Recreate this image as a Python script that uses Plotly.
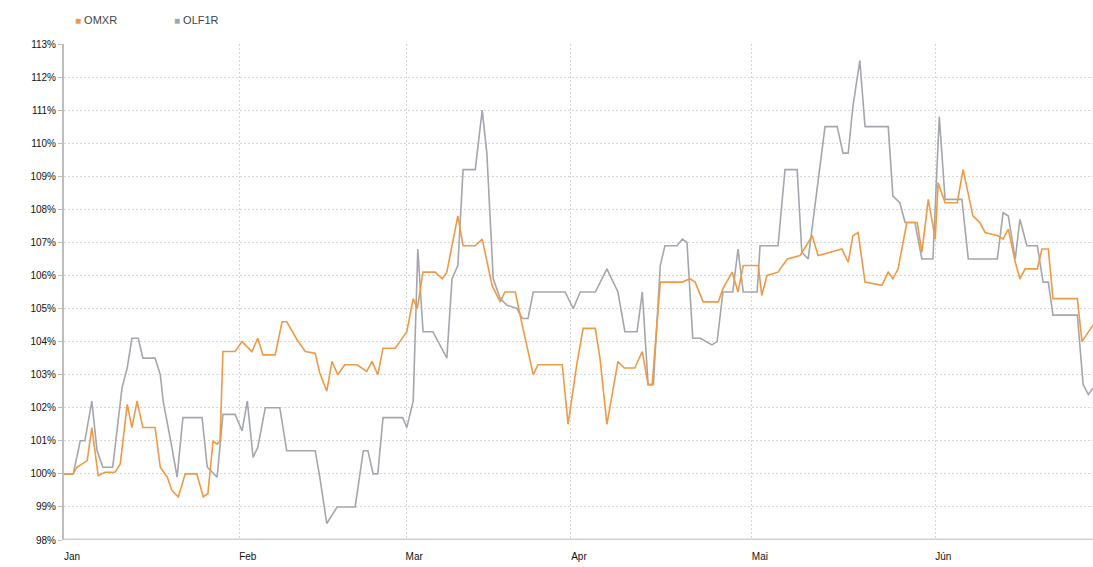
import plotly.graph_objects as go

# Day index along the axis (Jan 1 = 0) and index values in %
omxr_day = [0, 1.6, 2.2, 4.0, 4.8, 5.9, 7.1, 8.8, 9.7, 10.9, 11.7, 12.6, 13.6, 15.7, 16.6, 17.8,
            18.6, 19.7, 20.9, 22.9, 24.0, 24.8, 25.7, 26.4, 26.9, 27.4, 29.5, 30.7, 32.4, 33.4,
            34.3, 36.4, 37.6, 38.4, 40.2, 41.6, 43.3, 44.1, 45.3, 46.2, 47.2, 48.4, 50.5, 52.2,
            53.1, 54.1, 55.0, 57.1, 57.9, 59.1, 60.2, 60.9, 61.9, 64.0, 65.2, 66.0, 67.9, 68.8,
            70.9, 72.1, 73.8, 75.2, 76.0, 77.8, 79.0, 80.9, 81.7, 85.9, 86.9, 88.4, 89.5, 91.6,
            92.4, 93.6, 95.5, 96.6, 98.4, 99.7, 100.7, 101.4, 102.8, 106.6, 107.9, 108.8, 110.2,
            112.8, 113.6, 115.2, 116.2, 117.1, 119.7, 120.3, 121.2, 123.1, 124.7, 126.9, 129.0,
            130.0, 132.1, 134.1, 135.2, 136.0, 136.9, 138.1, 141.0, 142.1, 142.9, 143.8, 145.3,
            147.1, 147.9, 149.0, 150.2, 150.7, 151.9, 154.0, 155.0, 156.7, 157.9, 158.8, 161.0,
            161.9, 162.8, 164.0, 164.8, 165.7, 167.8, 168.6, 169.7, 170.5, 174.7, 175.5, 177.4]
omxr_val = [100.0, 100.0, 100.2, 100.4, 101.4, 99.95, 100.05, 100.05, 100.3, 102.1, 101.4, 102.2,
            101.4, 101.4, 100.2, 99.9, 99.5, 99.3, 100.0, 100.0, 99.3, 99.4, 101.0, 100.9, 101.0,
            103.7, 103.7, 104.0, 103.7, 104.1, 103.6, 103.6, 104.6, 104.6, 104.05, 103.7, 103.65,
            103.05, 102.5, 103.4, 103.0, 103.3, 103.3, 103.1, 103.4, 103.0, 103.8, 103.8, 104.0,
            104.3, 105.3, 105.0, 106.1, 106.1, 105.9, 106.1, 107.8, 106.9, 106.9, 107.1, 105.7,
            105.2, 105.5, 105.5, 104.5, 103.0, 103.3, 103.3, 101.5, 103.3, 104.4, 104.4, 103.5,
            101.5, 103.4, 103.2, 103.2, 103.7, 102.7, 102.7, 105.8, 105.8, 105.9, 105.8, 105.2,
            105.2, 105.6, 106.1, 105.5, 106.3, 106.3, 105.4, 106.0, 106.1, 106.5, 106.6, 107.2,
            106.6, 106.7, 106.8, 106.4, 107.2, 107.3, 105.8, 105.7, 106.1, 105.9, 106.2, 107.6,
            107.6, 106.7, 108.3, 107.1, 108.8, 108.2, 108.2, 109.2, 107.8, 107.6, 107.3, 107.2,
            107.1, 107.4, 106.4, 105.9, 106.2, 106.2, 106.8, 106.8, 105.3, 105.3, 104.0, 104.5]

olf1r_day = [0, 1.6, 2.8, 3.6, 4.8, 5.7, 6.7, 8.4, 10.0, 10.9, 11.7, 12.8, 13.6, 15.7, 16.6, 17.1,
             18.6, 19.5, 20.5, 23.8, 24.7, 26.4, 27.4, 29.5, 30.7, 31.6, 32.6, 33.4, 34.7, 37.2,
             38.4, 43.3, 44.1, 45.3, 47.1, 50.2, 51.6, 52.4, 53.3, 54.1, 55.0, 58.4, 59.1, 60.2,
             61.0, 61.9, 63.6, 66.0, 66.9, 67.9, 68.8, 70.9, 72.1, 72.9, 74.0, 75.2, 76.4, 78.1,
             79.0, 80.0, 80.9, 86.4, 87.8, 89.0, 91.6, 93.6, 95.5, 96.7, 98.8, 99.7, 100.7, 101.6,
             102.8, 103.6, 105.7, 106.6, 107.4, 108.4, 109.7, 111.7, 112.6, 113.6, 115.3, 116.2,
             117.1, 119.5, 120.0, 123.1, 124.3, 126.4, 127.2, 128.3, 131.2, 133.3, 134.3, 135.2,
             136.0, 137.2, 138.1, 142.1, 142.9, 144.1, 145.0, 146.7, 147.9, 149.8, 150.9, 151.9,
             154.8, 155.9, 160.9, 161.9, 162.8, 164.0, 164.8, 166.0, 167.8, 168.8, 169.7, 170.5,
             174.7, 175.7, 176.6, 177.4]
olf1r_val = [100.0, 100.0, 101.0, 101.0, 102.2, 100.7, 100.2, 100.2, 102.6, 103.2, 104.1, 104.1,
             103.5, 103.5, 103.0, 102.2, 100.8, 99.9, 101.7, 101.7, 100.2, 99.9, 101.8, 101.8,
             101.3, 102.2, 100.5, 100.8, 102.0, 102.0, 100.7, 100.7, 99.9, 98.5, 99.0, 99.0,
             100.7, 100.7, 100.0, 100.0, 101.7, 101.7, 101.4, 102.2, 106.8, 104.3, 104.3, 103.5,
             105.9, 106.3, 109.2, 109.2, 111.0, 109.7, 105.9, 105.3, 105.1, 105.0, 104.7, 104.7,
             105.5, 105.5, 105.0, 105.5, 105.5, 106.2, 105.5, 104.3, 104.3, 105.5, 102.7, 102.7,
             106.3, 106.9, 106.9, 107.1, 107.0, 104.1, 104.1, 103.9, 104.0, 105.5, 105.5, 106.8,
             105.5, 105.5, 106.9, 106.9, 109.2, 109.2, 106.7, 106.5, 110.5, 110.5, 109.7, 109.7,
             111.1, 112.5, 110.5, 110.5, 108.4, 108.2, 107.6, 107.6, 106.5, 106.5, 110.8, 108.3,
             108.3, 106.5, 106.5, 107.9, 107.8, 106.5, 107.7, 106.9, 106.9, 105.8, 105.8, 104.8,
             104.8, 102.7, 102.4, 102.6]

month_pos = [0, 30.3, 59.0, 87.4, 118.6, 150.2]
month_labels = ["Jan", "Feb", "Mar", "Apr", "Mai", "Jún"]
y_ticks = list(range(98, 114))
series_names = ["OMXR", "OLF1R"]

orange = "#EE9A45"
grey = "#A3A7AD"

fig = go.Figure()
fig.add_trace(go.Scatter(x=olf1r_day, y=olf1r_val, mode="lines", name=series_names[1],
                         line=dict(color=grey, width=1.6), showlegend=False))
fig.add_trace(go.Scatter(x=omxr_day, y=omxr_val, mode="lines", name=series_names[0],
                         line=dict(color=orange, width=1.6), showlegend=False))

# legend drawn as text: coloured square + name
for i, (nm, col) in enumerate(zip(series_names, [orange, grey])):
    fig.add_annotation(
        xref="paper", yref="paper", x=0.009 + i * 0.096, y=1.0 + 24 / 496,
        xanchor="left", yanchor="middle", showarrow=False,
        text=f"<span style='color:{col}; font-size:10px'>■</span> {nm}",
        font=dict(size=11, color="#444"))

fig.update_layout(
    width=1093, height=567,
    margin=dict(l=64, r=0, t=44, b=27),
    paper_bgcolor="white", plot_bgcolor="white",
    showlegend=False,
    font=dict(family="Liberation Sans, Arial, sans-serif", size=10, color="#222"),
    xaxis=dict(range=[0, 177.4], tickmode="array", tickvals=month_pos, ticktext=month_labels,
               showgrid=True, gridcolor="#D6D6D6", griddash="2px,2px", gridwidth=1,
               zeroline=False, showline=False, ticks="", ticklabelshift=8,
               ticklabelstandoff=9,
               tickfont=dict(size=10, color="#111")),
    yaxis=dict(range=[98, 113], tickmode="array", tickvals=y_ticks,
               ticktext=[f"{v}%" for v in y_ticks],
               showgrid=True, gridcolor="#D6D6D6", griddash="2px,2px", gridwidth=1,
               zeroline=False, showline=True, linecolor="#BDBDBD", linewidth=2,
               ticks="outside", ticklen=4, tickcolor="#BDBDBD",
               tickfont=dict(size=10, color="#111")),
)
# bottom axis baseline
fig.add_hline(y=98, line=dict(color="#CFCFCF", width=3), layer="below")

fig.write_html("out.html")
